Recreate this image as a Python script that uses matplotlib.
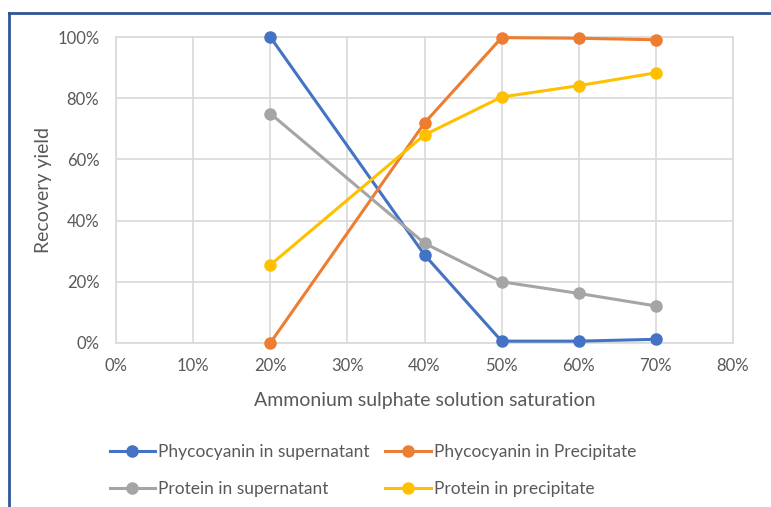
import matplotlib
matplotlib.use("Agg")
import matplotlib.pyplot as plt
from matplotlib.lines import Line2D
from matplotlib.ticker import PercentFormatter

plt.rcParams['font.family'] = ['Lato', 'DejaVu Sans']

saturation = [20, 40, 50, 60, 70]
phyco_super = [100, 28.8, 0.6, 0.6, 1.2]
phyco_precip = [0, 71.9, 99.8, 99.6, 99.1]
protein_super = [75, 32.6, 20, 16.2, 12.1]
protein_precip = [25.5, 68, 80.4, 84.1, 88.3]

series = [
    ("Phycocyanin in supernatant", phyco_super, "#4472C4"),
    ("Phycocyanin in Precipitate", phyco_precip, "#ED7D31"),
    ("Protein in supernatant", protein_super, "#A5A5A5"),
    ("Protein in precipitate", protein_precip, "#FFC000"),
]

text_color = "#595959"
grid_color = "#D9D9D9"

fig = plt.figure(figsize=(7.71, 5.07), dpi=100)
ax = fig.add_axes([0.1505, 0.3235, 0.8002, 0.6035])

for label, vals, color in series:
    ax.plot(saturation, vals, color=color, lw=2.2, marker='o', ms=8,
            label=label, solid_capstyle='round', zorder=3, clip_on=False)

ax.set_xlim(0, 80)
ax.set_ylim(0, 100)
ax.set_xticks(range(0, 81, 10))
ax.set_yticks(range(0, 101, 20))
ax.xaxis.set_major_formatter(PercentFormatter(decimals=0))
ax.yaxis.set_major_formatter(PercentFormatter(decimals=0))
ax.grid(True, color=grid_color, lw=1.2, zorder=0)
for s in ax.spines.values():
    s.set_color(grid_color)
    s.set_linewidth(1.2)
ax.tick_params(length=0, colors=text_color, labelsize=12)
ax.tick_params(axis='y', pad=12)
ax.tick_params(axis='x', pad=11)

ax.set_xlabel("Ammonium sulphate solution saturation", color=text_color,
              fontsize=14, labelpad=13)
ax.set_ylabel("Recovery yield", color=text_color, fontsize=14, labelpad=4)

# column-major order so each legend row pairs the right series
order = [0, 2, 1, 3]
handles = [Line2D([], [], color=series[i][2], lw=2.2, marker='o', ms=8) for i in order]
labels = [series[i][0] for i in order]
fig.legend(handles, labels, ncol=2, loc='upper left',
           bbox_to_anchor=(0.122, 0.155), frameon=False, fontsize=12.5,
           labelcolor=text_color, handlelength=2.6, handletextpad=0.2,
           columnspacing=0.9, labelspacing=1.2)

# outer frame
fig.add_artist(Line2D([9 / 771, 1.0], [1 - 13 / 507, 1 - 13 / 507],
                      transform=fig.transFigure, color="#2F5597", lw=2))
fig.add_artist(Line2D([9 / 771, 9 / 771], [0, 1 - 13 / 507],
                      transform=fig.transFigure, color="#2F5597", lw=2))

fig.savefig("out.png", dpi=100, facecolor="white")
